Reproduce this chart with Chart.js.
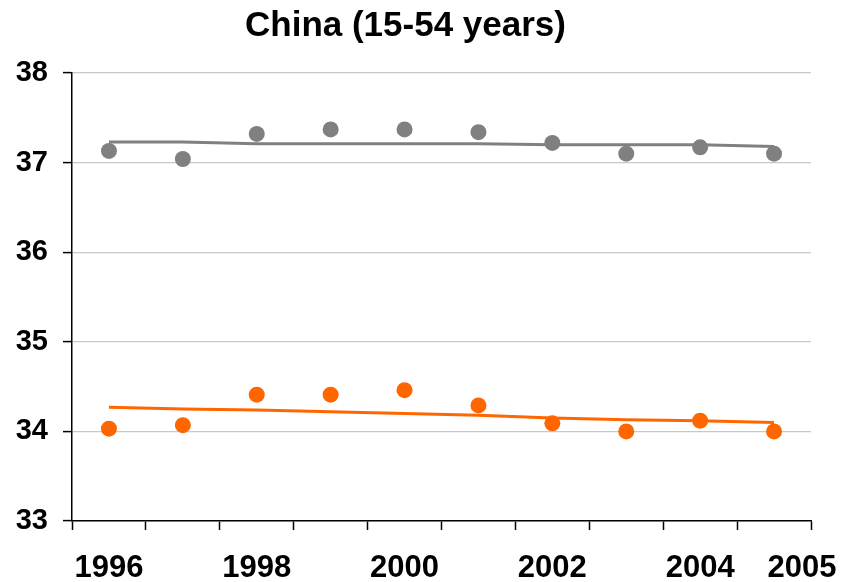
<!DOCTYPE html>
<html>
<head>
<meta charset="utf-8">
<script src="https://cdn.jsdelivr.net/npm/chart.js@4/dist/chart.umd.min.js"></script>
<style>
  html, body { margin: 0; padding: 0; background: #ffffff; }
  #wrap { width: 843px; height: 582px; }
</style>
</head>
<body>
<div id="wrap"><canvas id="c" width="843" height="582"></canvas></div>
<script>
const titleText = "China (15-54 years)";
const years = ["1996","1997","1998","1999","2000","2001","2002","2003","2004","2005"];
const xTickLabels = ["1996","","1998","","2000","","2002","","2004","2005"];
const yTicks = [33, 34, 35, 36, 37, 38];

const grayPoints = [37.13, 37.04, 37.32, 37.37, 37.37, 37.34, 37.22, 37.10, 37.17, 37.10];
const grayTrend  = [37.23, 37.23, 37.21, 37.21, 37.21, 37.21, 37.20, 37.20, 37.20, 37.18];
const orangePoints = [34.03, 34.07, 34.41, 34.41, 34.46, 34.29, 34.09, 34.00, 34.12, 34.00];
const orangeTrend  = [34.27, 34.25, 34.24, 34.22, 34.20, 34.18, 34.15, 34.13, 34.12, 34.10];

const GRAY = "#808080";
const ORANGE = "#ff6600";
const FONT = "'Liberation Sans', Arial, sans-serif";

const xLabelPlugin = {
  id: "xLabels",
  afterDraw(chart) {
    const ctx = chart.ctx;
    const xs = chart.scales.x;
    ctx.save();
    ctx.font = "bold 31px " + FONT;
    ctx.fillStyle = "#000";
    ctx.textBaseline = "middle";
    ctx.textAlign = "center";
    xTickLabels.forEach((lab, i) => {
      if (!lab) return;
      let x = xs.getPixelForValue(i);
      if (i === xTickLabels.length - 1) x += 28;
      ctx.fillText(lab, x, 568);
    });
    ctx.restore();
  }
};

new Chart(document.getElementById("c"), {
  type: "line",
  data: {
    labels: years,
    datasets: [
      { label: "gray", data: grayPoints, showLine: false, pointRadius: 8, pointHoverRadius: 8,
        pointBackgroundColor: GRAY, pointBorderColor: GRAY, pointBorderWidth: 0, borderColor: GRAY, order: 1 },
      { label: "orange", data: orangePoints, showLine: false, pointRadius: 8, pointHoverRadius: 8,
        pointBackgroundColor: ORANGE, pointBorderColor: ORANGE, pointBorderWidth: 0, borderColor: ORANGE, order: 1 },
      { label: "gray trend", data: grayTrend, borderColor: GRAY, borderWidth: 3, pointRadius: 0, tension: 0, fill: false, order: 2 },
      { label: "orange trend", data: orangeTrend, borderColor: ORANGE, borderWidth: 3, pointRadius: 0, tension: 0, fill: false, order: 2 }
    ]
  },
  options: {
    responsive: false,
    animation: false,
    devicePixelRatio: 1,
    layout: { padding: { left: 0, right: 32, top: 0, bottom: 0 } },
    plugins: {
      legend: { display: false },
      tooltip: { enabled: false },
      title: {
        display: true,
        text: titleText,
        color: "#000",
        font: { family: FONT, size: 35, weight: "bold" },
        padding: { top: 5, bottom: 26 }
      }
    },
    scales: {
      x: {
        type: "category",
        offset: true,
        grid: { display: true, offset: true, drawOnChartArea: false, drawTicks: true, tickLength: 9, tickColor: "#000", tickWidth: 1.5 },
        border: { display: true, color: "#000", width: 1.5 },
        ticks: { display: false },
        afterFit(scale) { scale.height = 61; }
      },
      y: {
        min: 33,
        max: 38,
        afterBuildTicks(scale) { scale.ticks = yTicks.map(v => ({ value: v })); },
        grid: { color: "#c8c8c8", lineWidth: 1.2, drawTicks: true, tickLength: 9, tickColor: "#000", tickWidth: 1.5 },
        border: { display: true, color: "#000", width: 1.5 },
        ticks: { color: "#000", font: { family: FONT, size: 29, weight: "bold" }, padding: 15 },
        afterFit(scale) { scale.width = 72; }
      }
    }
  },
  plugins: [xLabelPlugin]
});
</script>
</body>
</html>
